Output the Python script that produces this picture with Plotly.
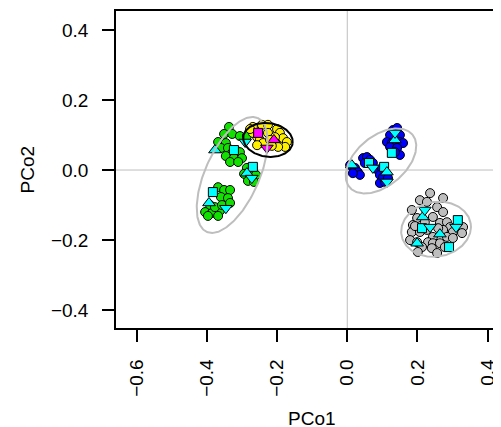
import numpy as np
import plotly.graph_objects as go

# ---------------- data (PCo1, PCo2) ----------------
green_x = [-0.337, -0.351, -0.328, -0.306, -0.286, -0.368, -0.346, -0.360,
           -0.340, -0.317, -0.328, -0.306, -0.346, -0.323, -0.300, -0.334, -0.311,
           -0.286, -0.269, -0.294, -0.277, -0.260, -0.283, -0.266,
           -0.368, -0.351, -0.360, -0.334, -0.340, -0.391, -0.405, -0.386,
           -0.363, -0.377, -0.357, -0.368, -0.397, -0.334]
green_y = [0.123, 0.103, 0.103, 0.097, 0.097, 0.080, 0.077, 0.063,
           0.063, 0.057, 0.049, 0.051, 0.040, 0.034, 0.034, 0.023, 0.023,
           0.006, 0.006, -0.011, -0.017, -0.014, -0.031, -0.034,
           -0.049, -0.057, -0.077, -0.057, -0.080, -0.100, -0.120, -0.123,
           -0.117, -0.106, -0.100, -0.131, -0.131, -0.094]

yellow_x = [-0.269, -0.243, -0.226, -0.200, -0.192, -0.183, -0.172, -0.177,
            -0.197, -0.257, -0.269, -0.277, -0.249, -0.240, -0.257, -0.226,
            -0.206, -0.220, -0.215]
yellow_y = [0.123, 0.129, 0.129, 0.117, 0.106, 0.091, 0.080, 0.066,
            0.066, 0.094, 0.106, 0.117, 0.086, 0.077, 0.071, 0.106,
            0.094, 0.086, 0.069]

blue_x = [0.130, 0.142, 0.122, 0.150, 0.113, 0.127, 0.150, 0.159, 0.122, 0.142,
          0.150, 0.136,
          0.008, 0.022, 0.030, 0.036, 0.016, 0.045, 0.056, 0.065, 0.073, 0.050,
          0.087, 0.099, 0.093, 0.099, 0.093, 0.107, 0.102, 0.116]
blue_y = [0.114, 0.120, 0.100, 0.100, 0.080, 0.077, 0.080, 0.077, 0.066, 0.063,
          0.043, 0.051,
          0.014, 0.006, -0.006, -0.014, -0.009, 0.034, 0.037, 0.029, 0.020, 0.020,
          0.000, 0.006, -0.014, -0.029, -0.037, -0.034, -0.020, -0.023]

gray_x = [0.236, 0.273, 0.207, 0.227, 0.184, 0.256, 0.273, 0.199, 0.244, 0.187,
          0.184, 0.207, 0.227, 0.264, 0.284, 0.293, 0.273, 0.301, 0.321, 0.330,
          0.327, 0.244, 0.284, 0.301, 0.179, 0.199, 0.230, 0.244, 0.213, 0.241,
          0.264, 0.278, 0.201, 0.256, 0.221, 0.193, 0.259]
gray_y = [-0.066, -0.080, -0.086, -0.091, -0.114, -0.106, -0.120, -0.137, -0.134, -0.157,
          -0.177, -0.177, -0.171, -0.151, -0.149, -0.163, -0.171, -0.177, -0.163, -0.163,
          -0.180, -0.191, -0.191, -0.194, -0.200, -0.206, -0.206, -0.209, -0.220, -0.223,
          -0.209, -0.220, -0.234, -0.237, -0.149, -0.160, -0.166]

# cyan samples
cyan_sq_x = [-0.323, -0.269, -0.383, 0.127, 0.062, 0.105, 0.213, 0.315, 0.290]
cyan_sq_y = [0.057, 0.009, -0.063, 0.049, 0.020, 0.009, -0.166, -0.143, -0.220]
cyan_up_x = [-0.377, -0.286, -0.394, 0.136, 0.013, 0.113, 0.215, 0.264, 0.199]
cyan_up_y = [0.057, -0.009, -0.094, 0.086, 0.014, -0.006, -0.134, -0.183, -0.209]
cyan_dn_x = [-0.291, -0.272, -0.346, 0.136, 0.073, 0.113, 0.221, 0.236, 0.310]
cyan_dn_y = [0.080, -0.023, -0.109, 0.106, 0.006, -0.034, -0.114, -0.163, -0.163]

# magenta samples
mag_sq_x, mag_sq_y = [-0.254], [0.106]
mag_up_x, mag_up_y = [-0.209], [0.086]
mag_dn_x, mag_dn_y = [-0.229], [0.063]

# ellipses: centre x, centre y, semi-major, semi-minor, angle (deg)
ell_green = [-0.328, -0.014, 0.178, 0.077, 66]
ell_yellow = [-0.226, 0.086, 0.071, 0.048, -8]
ell_blue = [0.096, 0.026, 0.117, 0.071, 40]
ell_gray = [0.253, -0.169, 0.100, 0.078, 10]

x_ticks = [-0.6, -0.4, -0.2, 0.0, 0.2, 0.4]
x_tick_text = ["\u22120.6", "\u22120.4", "\u22120.2", "0.0", "0.2", "0.4"]
y_ticks = [-0.4, -0.2, 0.0, 0.2, 0.4]
y_tick_text = ["\u22120.4", "\u22120.2", "0.0", "0.2", "0.4"]

# ---------------- figure ----------------
fig = go.Figure()

def pts(x, y, color, symbol, size):
    fig.add_trace(go.Scatter(
        x=x, y=y, mode="markers", hoverinfo="skip",
        marker=dict(color=color, symbol=symbol, size=size,
                    line=dict(color="black", width=1))))

pts(green_x, green_y, "#11E000", "circle", 9)
pts(yellow_x, yellow_y, "#FFF000", "circle", 9)
pts(blue_x, blue_y, "#0000FF", "circle", 9)
pts(gray_x, gray_y, "#BEBEBE", "circle", 9)
pts(cyan_sq_x, cyan_sq_y, "#00FFFF", "square", 9)
pts(cyan_up_x, cyan_up_y, "#00FFFF", "triangle-up", 11)
pts(cyan_dn_x, cyan_dn_y, "#00FFFF", "triangle-down", 11)
pts(mag_sq_x, mag_sq_y, "#FF00FF", "square", 9)
pts(mag_up_x, mag_up_y, "#FF00FF", "triangle-up", 11)
pts(mag_dn_x, mag_dn_y, "#FF00FF", "triangle-down", 11)

t = np.linspace(0, 2 * np.pi, 200)

def ellipse(p, color):
    cx, cy, a, b, ang = p
    th = np.deg2rad(ang)
    ex = cx + a * np.cos(t) * np.cos(th) - b * np.sin(t) * np.sin(th)
    ey = cy + a * np.cos(t) * np.sin(th) + b * np.sin(t) * np.cos(th)
    fig.add_trace(go.Scatter(x=ex, y=ey, mode="lines", hoverinfo="skip",
                             line=dict(color=color, width=2)))

ellipse(ell_green, "#BEBEBE")
ellipse(ell_blue, "#BEBEBE")
ellipse(ell_gray, "#BEBEBE")
ellipse(ell_yellow, "black")

fig.add_shape(type="line", xref="x", yref="paper", x0=0, x1=0, y0=0, y1=1,
              line=dict(color="#BEBEBE", width=1), layer="below")
fig.add_shape(type="line", xref="paper", yref="y", x0=0, x1=1, y0=0, y1=0,
              line=dict(color="#BEBEBE", width=1), layer="below")

fig.add_annotation(text="PCo1", xref="x", yref="paper", x=-0.1006, y=-0.284,
                   showarrow=False, font=dict(size=19), xanchor="center", yanchor="middle")
fig.add_annotation(text="PCo2", xref="paper", yref="paper", x=-0.227, y=0.5,
                   showarrow=False, textangle=-90, font=dict(size=19),
                   xanchor="center", yanchor="middle")

axis_common = dict(showline=True, linecolor="black", linewidth=1.5,
                   ticks="outside", ticklen=12, tickwidth=1.5, tickcolor="black",
                   showgrid=False, zeroline=False, ticklabelstandoff=10,
                   automargin=False)

# the page body adds an 8 px offset, so margins are reduced by that amount
fig.update_layout(
    width=501, height=427,
    margin=dict(l=108, r=1, t=3, b=107, autoexpand=False),
    paper_bgcolor="white", plot_bgcolor="white",
    showlegend=False,
    font=dict(family="Liberation Sans, Arial, sans-serif", size=19, color="black"),
    xaxis=dict(range=[-0.659, 0.458], tickvals=x_ticks, ticktext=x_tick_text,
               tickangle=-90, mirror=True, **axis_common),
    yaxis=dict(range=[-0.451, 0.454], tickvals=y_ticks, ticktext=y_tick_text,
               mirror=False, **axis_common),
)

fig.write_html("out.html")
